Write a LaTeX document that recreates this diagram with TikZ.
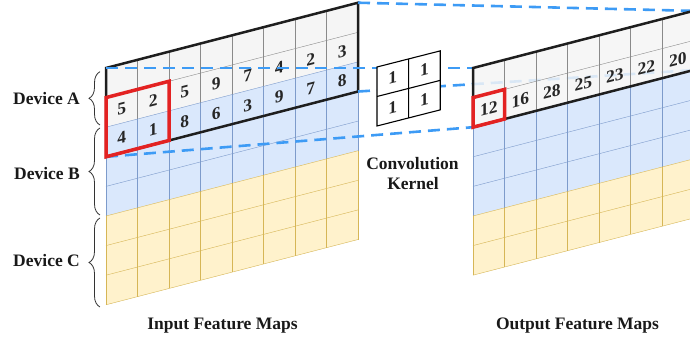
\documentclass[tikz,border=0pt]{standalone}
\usepackage{fontspec}
\setmainfont{Liberation Serif}
\usetikzlibrary{decorations.pathreplacing}
\definecolor{gfill}{HTML}{F5F5F5}
\definecolor{gline}{HTML}{8A8A8A}
\definecolor{bfill}{HTML}{DAE8FC}
\definecolor{bline}{HTML}{7D9BCB}
\definecolor{yfill}{HTML}{FFF2CC}
\definecolor{yline}{HTML}{D6B656}
\definecolor{redbox}{HTML}{E32222}
\definecolor{dashblue}{HTML}{3D9BF5}
\definecolor{outline}{HTML}{1E1E1E}
\tikzset{
 lbl/.style={font=\fontsize{17.5}{20}\selectfont\bfseries, inner sep=0pt, text=black!90},
 num/.style={font=\fontsize{17.5}{19}\selectfont\bfseries, inner sep=0pt, transform shape, text=black!85},
 halo/.style={draw=outline, line width=2.5pt, line join=miter},
 sel/.style={draw=redbox, line width=3.5pt, line join=miter},
 link/.style={draw=dashblue, line width=2.6pt, dash pattern=on 12pt off 7pt},
 devbrace/.style={decorate, decoration={brace, amplitude=11pt}, draw=black!80, line width=0.8pt},
 gridscope/.style={yslant=0.259, x=31.5pt, y=-29.6pt},
}
\begin{document}
\begin{tikzpicture}[x=1pt,y=1pt]
\useasboundingbox (0,0) rectangle (690,339);
\clip (0,0) rectangle (690,339);

% output corners (defined first, used by the dashed links)
\begin{scope}[shift={(473,271)}, gridscope]
 \coordinate (oTL) at (0,0); \coordinate (oTR) at (7,0);
 \coordinate (oBR) at (7,2); \coordinate (oBL) at (0,2);
\end{scope}

% ---------------- input feature maps ----------------
\begin{scope}[shift={(106,271)}, gridscope]
 \coordinate (iTL) at (0,0); \coordinate (iTR) at (8,0);
 \coordinate (iBR) at (8,3); \coordinate (iBL) at (0,3);
 \fill[gfill] (0,0)--(8,0)--(8,2)--(0,2)--cycle;
 \fill[bfill] (0,2)--(8,2)--(8,5)--(0,5)--cycle;
 \fill[yfill] (0,5)--(8,5)--(8,8)--(0,8)--cycle;
 \foreach \i in {0,...,8} {
   \draw[gline] (\i,0)--(\i,2);
   \draw[bline] (\i,2)--(\i,5);
   \draw[yline] (\i,5)--(\i,8);
 }
 \foreach \j in {0,1} \draw[gline] (0,\j)--(8,\j);
 \foreach \j in {2,3,4} \draw[bline] (0,\j)--(8,\j);
 \foreach \j in {5,...,8} \draw[yline] (0,\j)--(8,\j);
 \foreach \v [count=\c from 0] in {5,2,5,9,7,4,2,3}
   \node[num] (ia\c) at (\c+0.5,1.5) {\v};
 \foreach \v [count=\c from 0] in {4,1,8,6,3,9,7,8}
   \node[num] (ib\c) at (\c+0.5,2.5) {\v};
 \draw[halo] (0,0)--(8,0)--(8,3)--(0,3)--cycle;
\end{scope}

% dashed links
\draw[link] (iTL) -- (oTL);
\draw[link] (iTR) -- (oTR);
\draw[link] (iBR) -- (oBR);
\draw[link] (iBL) -- (oBL);

% red selection on input (on top)
\begin{scope}[shift={(106,271)}, gridscope]
 \draw[sel] (0,1)--(2,1)--(2,3)--(0,3)--cycle;
\end{scope}

% ---------------- kernel ----------------
\begin{scope}[shift={(377,272)}, yslant=0.255, x=31.6pt, y=-29.5pt]
 \filldraw[fill=white, draw=black, line width=1.1pt] (0,0)--(2,0)--(2,2)--(0,2)--cycle;
 \draw[black, line width=1.1pt] (1,0)--(1,2) (0,1)--(2,1);
 \node[num] (k1) at (0.5,0.5) {1};
 \node[num] (k2) at (1.5,0.5) {1};
 \node[num] (k3) at (0.5,1.5) {1};
 \node[num] (k4) at (1.5,1.5) {1};
\end{scope}

% ---------------- output feature maps ----------------
\begin{scope}[shift={(473,271)}, gridscope]
 \fill[gfill, fill opacity=0.85] (0,0)--(7,0)--(7,2)--(0,2)--cycle;
 \fill[bfill] (0,2)--(7,2)--(7,5)--(0,5)--cycle;
 \fill[yfill] (0,5)--(7,5)--(7,7)--(0,7)--cycle;
 \foreach \i in {0,...,7} {
   \draw[gline] (\i,0)--(\i,2);
   \draw[bline] (\i,2)--(\i,5);
   \draw[yline] (\i,5)--(\i,7);
 }
 \foreach \j in {0,1} \draw[gline] (0,\j)--(7,\j);
 \foreach \j in {2,3,4} \draw[bline] (0,\j)--(7,\j);
 \foreach \j in {5,6,7} \draw[yline] (0,\j)--(7,\j);
 \foreach \v [count=\c from 0] in {12,16,28,25,23,22,20}
   \node[num] (oa\c) at (\c+0.5,1.5) {\v};
 \draw[halo] (0,0)--(7,0)--(7,2)--(0,2)--cycle;
 \draw[sel] (0,1)--(1,1)--(1,2)--(0,2)--cycle;
\end{scope}

% ---------------- braces and labels ----------------
\draw[devbrace] (100,214) -- (100,267.3);
\draw[devbrace] (100,124) -- (100,211);
\draw[devbrace] (100,32) -- (100,121);
\node[lbl, anchor=base east] (devA) at (80,234.7) {Device A};
\node[lbl, anchor=base east] (devB) at (80,159.7) {Device B};
\node[lbl, anchor=base east] (devC) at (80,72.7) {Device C};
\node[lbl, anchor=base] (conv1) at (412.5,169.7) {Convolution};
\node[lbl, anchor=base] (conv2) at (413,149.7) {Kernel};
\node[lbl, anchor=base] (inlab) at (222.5,9) {Input Feature Maps};
\node[lbl, anchor=base] (outlab) at (577.5,9) {Output Feature Maps};
\end{tikzpicture}
\end{document}
